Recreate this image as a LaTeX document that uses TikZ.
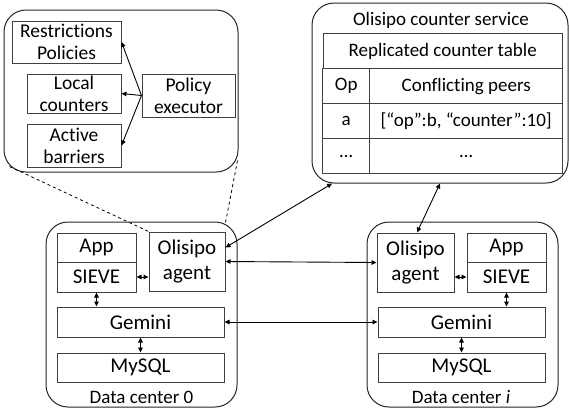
\documentclass[tikz,border=0pt]{standalone}
\usepackage{fontspec}
\setmainfont{Carlito}[Ligatures=NoCommon]
\usetikzlibrary{arrows.meta,positioning}

\begin{document}
\begin{tikzpicture}[x=1pt,y=-1pt,
		font=\fontsize{19}{22}\selectfont,
		>={Triangle[length=5pt,width=4.5pt]},
		box/.style={draw=black!75,line width=1pt,rectangle,inner sep=0pt,align=center},
		polbox/.style={box,font=\fontsize{19.5}{22}\selectfont},
		dcbox/.style={box,font=\fontsize{21}{25}\selectfont},
		group/.style={draw=black!85,line width=1pt,rectangle,rounded corners=22pt,inner sep=0pt},
		cell/.style={box,minimum height=35pt},
		link/.style={<->,line width=0.9pt}]
	\useasboundingbox (0,0) rectangle (569,408);

	% policy part of the agent (zoomed out)
	\node (policybox) [group,minimum width=234pt,minimum height=162pt] at (121,91) {};
	\node (restr) [polbox,minimum width=109pt,minimum height=42pt] at (66.5,42) {Restrictions\\Policies};
	\node (localc) [polbox,minimum width=94pt,minimum height=39pt] at (74,93.5) {Local\\counters};
	\node (barriers) [polbox,minimum width=94pt,minimum height=43pt] at (74,145.5) {Active\\barriers};
	\node (executor) [polbox,minimum width=93pt,minimum height=43pt] at (188.5,95.5) {Policy\\executor};
	\draw [->,line width=0.9pt] (executor.west) -- (restr.east);
	\draw [->,line width=0.9pt] (executor.west) -- (localc.east);
	\draw [->,line width=0.9pt] (executor.west) -- (barriers.east);

	% counter service
	\node (countersvc) [group,minimum width=256pt,minimum height=180pt] at (440,93) {};
	\node (svctitle) at (441,20) {Olisipo counter service};
	\matrix (ctable) [anchor=north west,inner sep=0pt,row sep=-1pt,column sep=-1pt] at (322,68) {
		\node (ophead) [cell,minimum width=47pt] {Op}; &
		\node (peershead) [cell,minimum width=193pt] {Conflicting peers}; \\
		\node (opa) [cell,minimum width=47pt] {a}; &
		\node (peersa) [cell,minimum width=193pt] {[“op”:b, “counter”:10]}; \\
		\node (opdots) [cell,minimum width=47pt] {…}; &
		\node (peersdots) [cell,minimum width=193pt] {…}; \\
	};
	\node (tablehead) [cell,minimum width=239pt,above=-1pt of ctable] {Replicated counter table};

	% data center 0
	\node (dczero) [group,minimum width=191pt,minimum height=185pt] at (141.5,314.5) {};
	\node (app0) [dcbox,minimum width=79pt,minimum height=29pt] at (96.5,247.5) {App};
	\node (sieve0) [dcbox,minimum width=79pt,minimum height=30pt] at (96.5,277) {SIEVE};
	\node (agent0) [dcbox,minimum width=76pt,minimum height=59pt] at (187,261.5) {Olisipo\\agent};
	\node (gemini0) [dcbox,minimum width=167pt,minimum height=30pt] at (140.5,322) {Gemini};
	\node (mysql0) [dcbox,minimum width=167pt,minimum height=29pt] at (140.5,367.5) {MySQL};
	\node (dczerolabel) at (141.5,397) {Data center 0};

	% data center i
	\node (dci) [group,minimum width=191pt,minimum height=185pt] at (462.5,314.5) {};
	\node (agenti) [dcbox,minimum width=77pt,minimum height=59pt] at (415.5,262.5) {Olisipo\\agent};
	\node (appi) [dcbox,minimum width=79pt,minimum height=29pt] at (506.5,247.5) {App};
	\node (sievei) [dcbox,minimum width=79pt,minimum height=30pt] at (506.5,277) {SIEVE};
	\node (geminii) [dcbox,minimum width=167pt,minimum height=30pt] at (461.5,322) {Gemini};
	\node (mysqli) [dcbox,minimum width=167pt,minimum height=29pt] at (461.5,367.5) {MySQL};
	\node (dcilabel) at (461,397) {Data center \textit{i}};

	% links inside the data centers
	\draw [link] (sieve0.east) -- (agent0.west |- sieve0.east);
	\draw [link] (sieve0.south) -- (sieve0.south |- gemini0.north);
	\draw [link] (gemini0.south) -- (mysql0.north);
	\draw [link] (agenti.east |- sievei.west) -- (sievei.west);
	\draw [link] (sievei.south) -- (sievei.south |- geminii.north);
	\draw [link] (geminii.south) -- (mysqli.north);

	% links between the parts
	\draw [link] (agent0.east) -- (agenti.west);
	\draw [link] (gemini0.east) -- (geminii.west);
	\draw [link] ([yshift=14pt]agent0.east) -- (countersvc.220);
	\draw [link] (countersvc.south) -- ([xshift=1.5pt]agenti.north);

	% zoom lines
	\draw [dashed,line width=0.8pt] ([shift={(6pt,6pt)}]policybox.south west) -- (agent0.north west);
	\draw [dashed,line width=0.8pt] ([shift={(-1pt,12pt)}]policybox.south east) -- ([yshift=9pt]agent0.north east);
\end{tikzpicture}
\end{document}
